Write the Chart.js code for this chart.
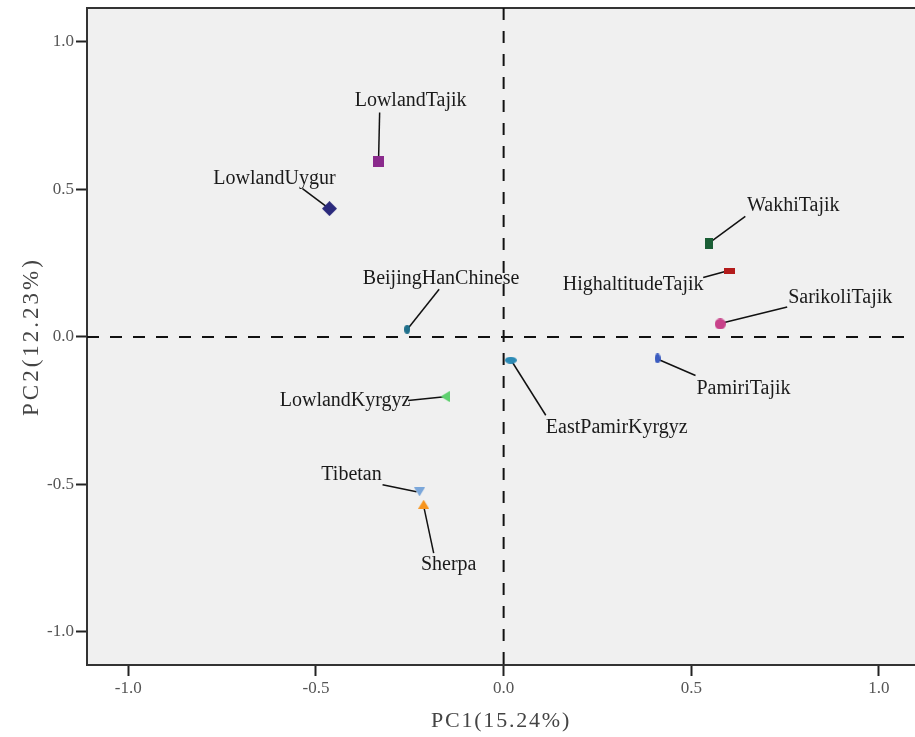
<!DOCTYPE html>
<html>
<head>
<meta charset="utf-8">
<script src="https://cdn.jsdelivr.net/npm/chart.js@4.4.0/dist/chart.umd.min.js"></script>
<style>
  html, body { margin: 0; padding: 0; background: #fff; }
  canvas { display: block; }
</style>
</head>
<body>
<canvas id="pca" width="915" height="737"></canvas>
<script>
/* ---------- Data ---------- */
const populations = [
  "LowlandTajik", "LowlandUygur", "BeijingHanChinese", "WakhiTajik",
  "HighaltitudeTajik", "SarikoliTajik", "PamiriTajik", "EastPamirKyrgyz",
  "LowlandKyrgyz", "Tibetan", "Sherpa"
];
const pc1 = [-0.333, -0.464, -0.257, 0.548, 0.601, 0.577, 0.410, 0.019, -0.156, -0.224, -0.213];
const pc2 = [0.595, 0.435, 0.026, 0.317, 0.222, 0.044, -0.073, -0.079, -0.202, -0.525, -0.567];
const xTicks = [-1.0, -0.5, 0.0, 0.5, 1.0];
const yTicks = [-1.0, -0.5, 0.0, 0.5, 1.0];

/* ---------- Styles ---------- */
const SERIF = "'Liberation Serif', 'Times New Roman', serif";
const markerColors = [
  "#8a2a8c", "#2b2a7c", "#1f6f8b", "#1a5e35", "#b31b1b", "#c8428a",
  "#3b5cc0", "#2b8ab5", "#5fd06f", "#7ba7da", "#f7941d"
];
// kind, width, height (px)
const markerShapes = [
  ["rect", 11, 11], ["diamond", 15, 15], ["ellipse", 6, 9], ["rect", 8, 11],
  ["rect", 11, 6], ["ellipse", 11, 11], ["ellipse", 6, 10], ["ellipse", 12, 7],
  ["triLeft", 9, 11], ["triDown", 11, 9], ["triUp", 11, 9]
];
// label text centre and leader line, as pixel offsets from the marker
const labelLayout = [
  { tx: 32, ty: -61, x1: 1, y1: -49, x2: 0, y2: -5 },
  { tx: -55, ty: -30, x1: -27, y1: -20, x2: -3, y2: -2 },
  { tx: 34, ty: -51, x1: 32, y1: -40, x2: 1, y2: -1 },
  { tx: 84, ty: -38, x1: 36, y1: -27, x2: 2, y2: -2 },
  { tx: -96, ty: 13, x1: -26, y1: 6, x2: -4, y2: 0 },
  { tx: 120, ty: -26, x1: 67, y1: -17, x2: 2, y2: -1 },
  { tx: 86, ty: 30, x1: 38, y1: 17, x2: 1, y2: 1 },
  { tx: 106, ty: 68, x1: 35, y1: 55, x2: 1, y2: 1 },
  { tx: -100, ty: 4, x1: -37, y1: 4, x2: 2, y2: 0 },
  { tx: -68, ty: -17, x1: -37, y1: -7, x2: -3, y2: 0 },
  { tx: 25, ty: 61, x1: 10, y1: 49, x2: 0, y2: 2 }
];

function shapeCanvas(kind, w, h, color) {
  const c = document.createElement("canvas");
  c.width = w;
  c.height = h;
  const g = c.getContext("2d");
  g.fillStyle = color;
  g.beginPath();
  if (kind === "ellipse") {
    g.ellipse(w / 2, h / 2, w / 2, h / 2, 0, 0, Math.PI * 2);
  } else if (kind === "diamond") {
    g.moveTo(w / 2, 0); g.lineTo(w, h / 2); g.lineTo(w / 2, h); g.lineTo(0, h / 2);
  } else if (kind === "triLeft") {
    g.moveTo(0, h / 2); g.lineTo(w, 0); g.lineTo(w, h);
  } else if (kind === "triDown") {
    g.moveTo(0, 0); g.lineTo(w, 0); g.lineTo(w / 2, h);
  } else if (kind === "triUp") {
    g.moveTo(w / 2, 0); g.lineTo(w, h); g.lineTo(0, h);
  } else {
    g.rect(0, 0, w, h);
  }
  g.closePath();
  g.fill();
  return c;
}

const pointImages = markerShapes.map((s, i) => shapeCanvas(s[0], s[1], s[2], markerColors[i]));

/* ---------- Plugins ---------- */
const plotFrame = {
  id: "plotFrame",
  beforeDraw(chart) {
    const { ctx, chartArea: a } = chart;
    ctx.save();
    ctx.fillStyle = "#f0f0f0";
    ctx.fillRect(a.left, a.top, a.right - a.left, a.bottom - a.top);
    ctx.strokeStyle = "#333";
    ctx.lineWidth = 2;
    ctx.beginPath();
    ctx.moveTo(a.left, a.top);
    ctx.lineTo(a.right, a.top);
    ctx.stroke();
    ctx.restore();
  },
  afterLayout(chart) {
    // spaced-out axis titles
    [["x", "1.8px"], ["y", "3px"]].forEach(([id, sp]) => {
      const s = chart.scales[id];
      if (!s || s._spaced) return;
      const orig = s.drawTitle;
      s.drawTitle = function () {
        this.ctx.save();
        this.ctx.letterSpacing = sp;
        orig.call(this);
        this.ctx.restore();
      };
      s._spaced = true;
    });
  }
};

const zeroLinesAndLeaders = {
  id: "zeroLinesAndLeaders",
  beforeDatasetsDraw(chart) {
    const { ctx, chartArea: a, scales } = chart;
    const x0 = scales.x.getPixelForValue(0);
    const y0 = scales.y.getPixelForValue(0);
    ctx.save();
    ctx.beginPath();
    ctx.rect(a.left, a.top, a.right - a.left, a.bottom - a.top);
    ctx.clip();
    ctx.strokeStyle = "#111";
    ctx.lineWidth = 2;
    ctx.setLineDash([12, 11]);
    ctx.beginPath();
    ctx.moveTo(x0, a.top);
    ctx.lineTo(x0, a.bottom);
    ctx.moveTo(a.left, y0);
    ctx.lineTo(a.right, y0);
    ctx.stroke();

    ctx.setLineDash([]);
    ctx.lineWidth = 1.5;
    ctx.strokeStyle = "#111";
    chart.getDatasetMeta(0).data.forEach((pt, i) => {
      const L = labelLayout[i];
      ctx.beginPath();
      ctx.moveTo(pt.x + L.x1, pt.y + L.y1);
      ctx.lineTo(pt.x + L.x2, pt.y + L.y2);
      ctx.stroke();
    });
    ctx.restore();
  },
  afterDatasetsDraw(chart) {
    const { ctx } = chart;
    ctx.save();
    ctx.font = "20px " + SERIF;
    ctx.fillStyle = "#1a1a1a";
    ctx.textAlign = "center";
    ctx.textBaseline = "middle";
    chart.getDatasetMeta(0).data.forEach((pt, i) => {
      const L = labelLayout[i];
      ctx.fillText(populations[i], pt.x + L.tx, pt.y + L.ty);
    });
    ctx.restore();
  }
};

/* ---------- Chart ---------- */
const axisGrid = { drawOnChartArea: false, drawTicks: true, tickLength: 11, tickWidth: 2, tickColor: "#222" };
const axisBorder = { display: true, color: "#333", width: 2 };
const tickFont = { family: SERIF, size: 17 };

function noScalePadding(s) {
  s.paddingTop = 0;
  s.paddingBottom = 0;
  s.paddingLeft = 0;
  s.paddingRight = 0;
}

new Chart(document.getElementById("pca"), {
  type: "scatter",
  data: {
    datasets: [{
      label: "PCA",
      data: pc1.map((x, i) => ({ x, y: pc2[i] })),
      pointStyle: pointImages,
      pointRadius: 6,
      pointHoverRadius: 6,
      backgroundColor: markerColors,
      borderWidth: 0
    }]
  },
  options: {
    responsive: false,
    animation: false,
    devicePixelRatio: 1,
    layout: { autoPadding: false, padding: { top: 8, right: 0, bottom: 0, left: 0 } },
    plugins: { legend: { display: false }, tooltip: { enabled: false } },
    scales: {
      x: {
        type: "linear",
        min: -1.110,
        max: 1.096,
        afterBuildTicks: (s) => { s.ticks = xTicks.map((v) => ({ value: v })); },
        afterFit: (s) => { s.height = 72; noScalePadding(s); },
        grid: axisGrid,
        border: axisBorder,
        ticks: { z: 1, padding: 2, color: "#555", font: tickFont, maxRotation: 0, autoSkip: false,
                 callback: (v) => Number(v).toFixed(1) },
        title: { display: true, text: "PC1(15.24%)", color: "#444",
                 font: { family: SERIF, size: 22 }, padding: { top: 0, bottom: 3 } }
      },
      y: {
        type: "linear",
        min: -1.112,
        max: 1.115,
        afterBuildTicks: (s) => { s.ticks = yTicks.map((v) => ({ value: v })); },
        afterFit: (s) => { s.width = 87; noScalePadding(s); },
        grid: axisGrid,
        border: axisBorder,
        ticks: { z: 1, padding: 2, color: "#555", font: tickFont, autoSkip: false,
                 callback: (v) => Number(v).toFixed(1) },
        title: { display: true, text: "PC2(12.23%)", color: "#444",
                 font: { family: SERIF, size: 23 }, padding: { top: 18, bottom: 0 } }
      }
    }
  },
  plugins: [plotFrame, zeroLinesAndLeaders]
});
</script>
</body>
</html>
